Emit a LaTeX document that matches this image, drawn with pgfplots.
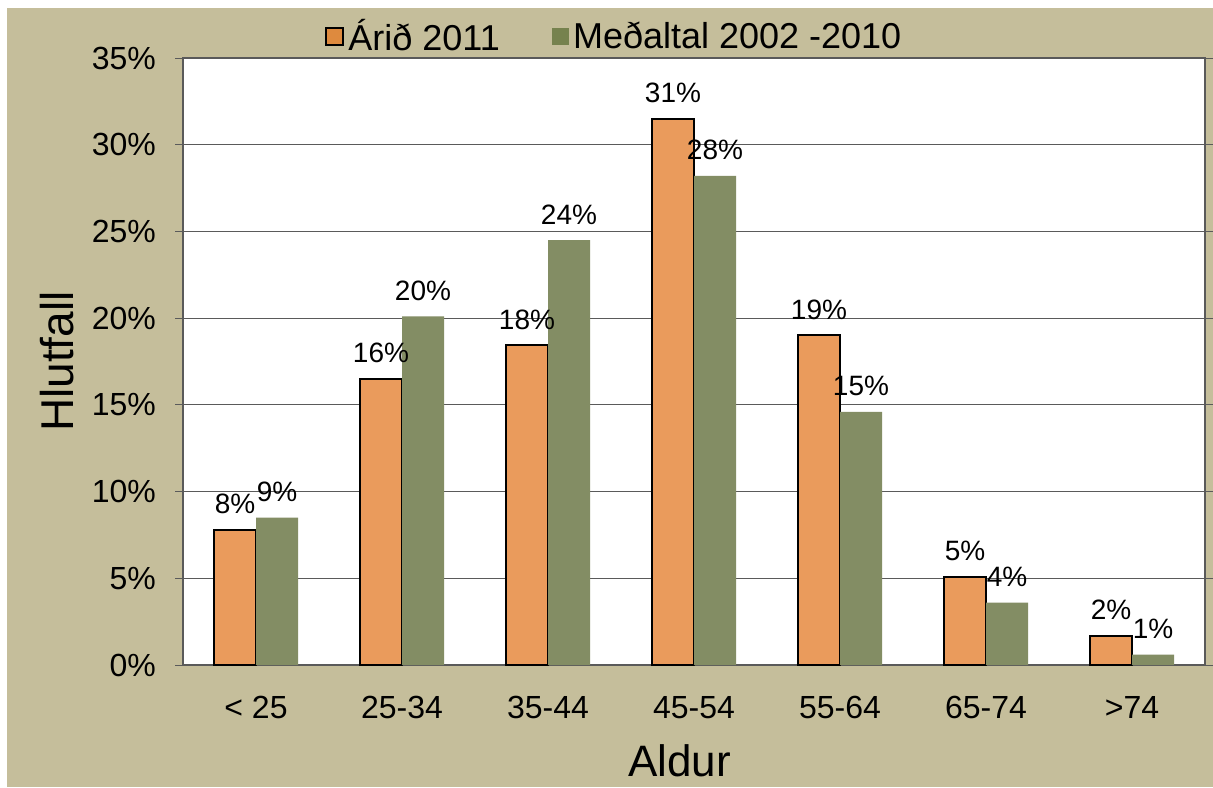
\documentclass[border=0pt]{standalone}
\usepackage{pgfplots}
\pgfplotsset{compat=1.18}
\usepackage{fontspec}
\setmainfont{Liberation Sans}
\definecolor{bgtan}{RGB}{197,190,155}
\definecolor{barorange}{RGB}{234,155,92}
\definecolor{legorange}{RGB}{222,138,62}
\definecolor{bargreen}{RGB}{131,141,100}
\definecolor{leggreen}{RGB}{118,130,78}
\definecolor{gridgray}{RGB}{90,90,90}
\begin{document}
\begin{tikzpicture}
\fill[white] (0,0) rectangle (606.5pt,393.5pt);
\fill[bgtan] (3.5pt,0) rectangle (606.5pt,389.5pt);
\path[use as bounding box] (0,0) rectangle (606.5pt,393.5pt);
\begin{axis}[
  at={(91.5pt,61pt)}, anchor=south west,
  scale only axis, width=511pt, height=303.5pt,
  axis background/.style={fill=white},
  ybar=0pt, bar width=21pt,
  xmin=-0.5, xmax=6.5, ymin=0, ymax=35,
  xtick={0,...,6},
  xticklabels={{< 25},25-34,35-44,45-54,55-64,65-74,>74},
  major x tick style={draw=none},
  extra x ticks={-0.5,0.5,1.5,2.5,3.5,4.5,5.5,6.5},
  extra x tick labels={},
  extra x tick style={tick style={draw=gridgray, thin}, major tick length=5.5pt, tick align=outside, grid=none},
  ytick={0,5,...,35},
  yticklabels={0\%,5\%,10\%,15\%,20\%,25\%,30\%,35\%},
  ymajorgrids, grid style={gridgray, line width=0.5pt},
  tick align=outside, major tick length=4pt,
  ytick style={gridgray, thin},
  axis line style={gridgray, line width=0.6pt},
  tick label style={font=\fontsize{16}{18}\selectfont},
  xticklabel style={yshift=-8pt},
  yticklabel style={xshift=-6pt},
  xlabel={Aldur}, ylabel={Hlutfall},
  label style={font=\fontsize{22}{25}\selectfont},
  xlabel style={at={(axis description cs:0.486,-0.157)}, anchor=center},
  ylabel style={at={(axis description cs:-0.123,0.5)}, anchor=center, rotate=0, font=\fontsize{23}{26}\selectfont},
  point meta=explicit symbolic,
  nodes near coords,
  every node near coord/.append style={font=\fontsize{14}{16}\selectfont, anchor=base, inner sep=0pt, yshift=8pt},
  legend columns=2,
  legend style={at={(0.423,1.035)}, anchor=center, draw=none, fill=none,
    font=\fontsize{18}{20}\selectfont,
    /tikz/every even column/.append style={column sep=24pt}},
  legend image code/.code={\path[#1] (0pt,-4.3pt) rectangle (8.6pt,4.3pt);},
]
\addplot[fill=barorange, draw=black, line width=1pt, legend image code/.code={\path[fill=legorange, draw=black, line width=1pt] (0pt,-4.3pt) rectangle (8.6pt,4.3pt);}] coordinates {
  (0,7.8)[8\%] (1,16.5)[16\%] (2,18.45)[18\%] (3,31.5)[31\%]
  (4,19.0)[19\%] (5,5.1)[5\%] (6,1.7)[2\%]
};
\addplot[fill=bargreen, draw=none, legend image code/.code={\path[fill=leggreen] (0pt,-4.3pt) rectangle (8.6pt,4.3pt);}] coordinates {
  (0,8.5)[9\%] (1,20.1)[20\%] (2,24.5)[24\%] (3,28.2)[28\%]
  (4,14.6)[15\%] (5,3.6)[4\%] (6,0.6)[1\%]
};
\legend{Árið 2011, Meðaltal 2002 -2010}
\end{axis}
\end{tikzpicture}
\end{document}
